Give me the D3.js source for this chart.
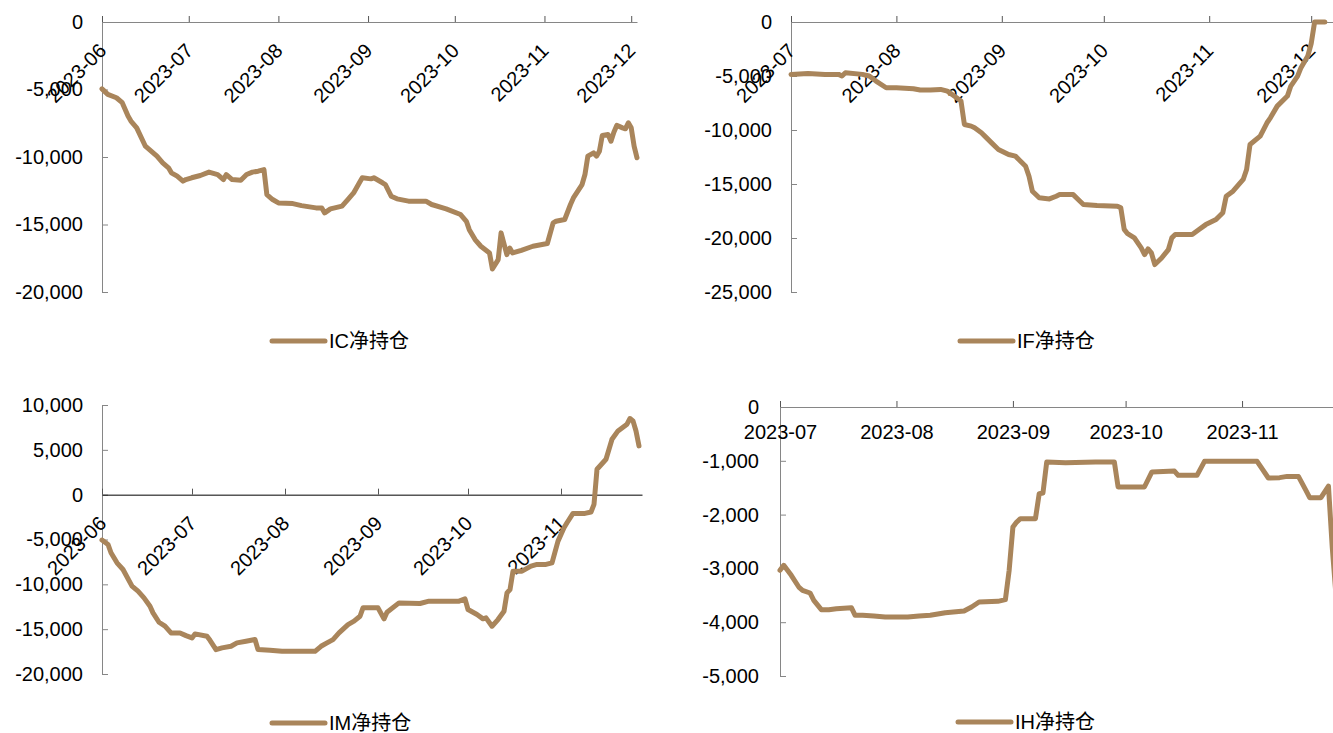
<!DOCTYPE html>
<html>
<head>
<meta charset="utf-8">
<script src="https://cdn.jsdelivr.net/npm/d3@7"></script>
<style>
body { margin: 0; background: #fff; }
svg { display: block; }
</style>
</head>
<body>
<div id="chart"></div>
<script>
// IC net position (date, contracts)
var icSeries = [
    ["2023-06-01", -4950], ["2023-06-03", -5360], ["2023-06-06", -5610], ["2023-06-08", -5980],
    ["2023-06-10", -6970], ["2023-06-11", -7340], ["2023-06-13", -7840], ["2023-06-16", -9200],
    ["2023-06-18", -9570], ["2023-06-20", -9940], ["2023-06-22", -10430], ["2023-06-24", -10800],
    ["2023-06-25", -11170], ["2023-06-27", -11420], ["2023-06-29", -11790], ["2023-06-30", -11670],
    ["2023-07-02", -11540], ["2023-07-05", -11370], ["2023-07-08", -11120], ["2023-07-11", -11300],
    ["2023-07-13", -11670], ["2023-07-14", -11300], ["2023-07-16", -11670], ["2023-07-19", -11720],
    ["2023-07-21", -11300], ["2023-07-23", -11120], ["2023-07-25", -11050], ["2023-07-27", -10930],
    ["2023-07-28", -12780], ["2023-07-30", -13150], ["2023-08-01", -13400], ["2023-08-06", -13450],
    ["2023-08-09", -13600], ["2023-08-14", -13770], ["2023-08-16", -13770], ["2023-08-17", -14140],
    ["2023-08-19", -13840], ["2023-08-23", -13640], ["2023-08-25", -13150], ["2023-08-27", -12660],
    ["2023-08-29", -11910], ["2023-08-30", -11540], ["2023-09-02", -11620], ["2023-09-03", -11540],
    ["2023-09-06", -11910], ["2023-09-07", -12040], ["2023-09-09", -12900], ["2023-09-11", -13100],
    ["2023-09-15", -13270], ["2023-09-21", -13270], ["2023-09-23", -13520], ["2023-09-28", -13840],
    ["2023-10-03", -14260], ["2023-10-05", -14760], ["2023-10-06", -15380], ["2023-10-08", -16120],
    ["2023-10-10", -16610], ["2023-10-13", -17110], ["2023-10-14", -18300], ["2023-10-16", -17600],
    ["2023-10-17", -15620], ["2023-10-19", -17230], ["2023-10-20", -16740], ["2023-10-21", -17110],
    ["2023-10-24", -16910], ["2023-10-28", -16610], ["2023-11-02", -16410], ["2023-11-04", -14880],
    ["2023-11-05", -14760], ["2023-11-08", -14630], ["2023-11-10", -13520], ["2023-11-11", -13030],
    ["2023-11-14", -12040], ["2023-11-15", -11300], ["2023-11-16", -9940], ["2023-11-18", -9690],
    ["2023-11-19", -9940], ["2023-11-20", -9570], ["2023-11-21", -8400], ["2023-11-23", -8330],
    ["2023-11-24", -8830], ["2023-11-25", -8160], ["2023-11-26", -7660], ["2023-11-28", -7840],
    ["2023-11-29", -7910], ["2023-11-30", -7470], ["2023-12-01", -7840], ["2023-12-02", -9200],
    ["2023-12-03", -10060]
];

// IF net position
var ifSeries = [
    ["2023-07-01", -4850], ["2023-07-06", -4760], ["2023-07-11", -4850], ["2023-07-15", -4850],
    ["2023-07-16", -5000], ["2023-07-17", -4700], ["2023-07-22", -4850], ["2023-07-24", -5000],
    ["2023-07-26", -5470], ["2023-07-29", -6090], ["2023-08-01", -6090], ["2023-08-06", -6180],
    ["2023-08-08", -6300], ["2023-08-11", -6300], ["2023-08-14", -6240], ["2023-08-16", -6400],
    ["2023-08-18", -6860], ["2023-08-20", -7320], ["2023-08-21", -9490], ["2023-08-23", -9640],
    ["2023-08-24", -9800], ["2023-08-26", -10260], ["2023-08-27", -10570], ["2023-08-29", -11190],
    ["2023-08-31", -11800], ["2023-09-03", -12270], ["2023-09-05", -12420], ["2023-09-06", -12730],
    ["2023-09-08", -13350], ["2023-09-09", -14280], ["2023-09-10", -15670], ["2023-09-12", -16280],
    ["2023-09-15", -16380], ["2023-09-17", -16130], ["2023-09-18", -15980], ["2023-09-22", -15980],
    ["2023-09-24", -16590], ["2023-09-25", -16900], ["2023-09-29", -17000], ["2023-10-05", -17060],
    ["2023-10-06", -17210], ["2023-10-07", -19200], ["2023-10-08", -19600], ["2023-10-10", -19990],
    ["2023-10-11", -20460], ["2023-10-12", -20920], ["2023-10-13", -21540], ["2023-10-14", -21010],
    ["2023-10-15", -21380], ["2023-10-16", -22460], ["2023-10-18", -21850], ["2023-10-20", -21070],
    ["2023-10-21", -19990], ["2023-10-22", -19680], ["2023-10-27", -19680], ["2023-10-29", -19220],
    ["2023-10-31", -18760], ["2023-11-03", -18290], ["2023-11-05", -17670], ["2023-11-06", -16130],
    ["2023-11-08", -15670], ["2023-11-11", -14580], ["2023-11-12", -13660], ["2023-11-13", -11340],
    ["2023-11-16", -10570], ["2023-11-18", -9330], ["2023-11-19", -8870], ["2023-11-21", -7790],
    ["2023-11-24", -6860], ["2023-11-25", -5930], ["2023-11-27", -5010], ["2023-11-28", -4230],
    ["2023-11-30", -3150], ["2023-12-01", -2000], ["2023-12-02", 0], ["2023-12-05", 0]
];

// IM net position
var imSeries = [
    ["2023-06-01", -5065], ["2023-06-03", -5550], ["2023-06-04", -6480], ["2023-06-06", -7600],
    ["2023-06-08", -8340], ["2023-06-11", -10200], ["2023-06-13", -10760], ["2023-06-15", -11510],
    ["2023-06-17", -12440], ["2023-06-18", -13180], ["2023-06-20", -14230], ["2023-06-22", -14670],
    ["2023-06-24", -15420], ["2023-06-27", -15420], ["2023-06-29", -15720], ["2023-07-01", -15980],
    ["2023-07-02", -15530], ["2023-07-06", -15790], ["2023-07-07", -16240], ["2023-07-09", -17280],
    ["2023-07-11", -17090], ["2023-07-14", -16910], ["2023-07-16", -16530], ["2023-07-19", -16350],
    ["2023-07-22", -16160], ["2023-07-23", -17280], ["2023-07-27", -17350], ["2023-07-31", -17470],
    ["2023-08-11", -17470], ["2023-08-13", -16910], ["2023-08-15", -16530], ["2023-08-17", -16160],
    ["2023-08-19", -15420], ["2023-08-22", -14490], ["2023-08-24", -14110], ["2023-08-26", -13560],
    ["2023-08-27", -12620], ["2023-09-01", -12620], ["2023-09-03", -13850], ["2023-09-04", -13110],
    ["2023-09-08", -12070], ["2023-09-15", -12140], ["2023-09-18", -11880], ["2023-09-28", -11880],
    ["2023-09-30", -11620], ["2023-10-01", -12810], ["2023-10-04", -13370], ["2023-10-06", -13850],
    ["2023-10-07", -13740], ["2023-10-09", -14670], ["2023-10-11", -13930], ["2023-10-13", -13000],
    ["2023-10-14", -10950], ["2023-10-15", -10580], ["2023-10-16", -8530], ["2023-10-19", -8530],
    ["2023-10-22", -7970], ["2023-10-24", -7780], ["2023-10-27", -7780], ["2023-10-29", -7600],
    ["2023-10-31", -5180], ["2023-11-02", -3690], ["2023-11-03", -3130], ["2023-11-05", -2090],
    ["2023-11-09", -2090], ["2023-11-11", -1940], ["2023-11-12", -1080], ["2023-11-13", 2830],
    ["2023-11-16", 3950], ["2023-11-18", 6180], ["2023-11-20", 7110], ["2023-11-23", 7860],
    ["2023-11-24", 8490], ["2023-11-25", 8230], ["2023-11-26", 7110], ["2023-11-27", 5440]
];

// IH net position
var ihSeries = [
    ["2023-07-01", -3036], ["2023-07-02", -2943], ["2023-07-04", -3129], ["2023-07-06", -3346],
    ["2023-07-07", -3408], ["2023-07-09", -3457], ["2023-07-10", -3594], ["2023-07-12", -3767],
    ["2023-07-14", -3767], ["2023-07-16", -3749], ["2023-07-20", -3730], ["2023-07-21", -3872],
    ["2023-07-23", -3872], ["2023-07-26", -3885], ["2023-07-29", -3903], ["2023-08-04", -3903],
    ["2023-08-07", -3885], ["2023-08-10", -3872], ["2023-08-14", -3823], ["2023-08-19", -3792],
    ["2023-08-21", -3718], ["2023-08-23", -3625], ["2023-08-28", -3612], ["2023-08-30", -3581],
    ["2023-08-31", -3036], ["2023-09-01", -2230], ["2023-09-02", -2138], ["2023-09-03", -2076],
    ["2023-09-07", -2076], ["2023-09-08", -1611], ["2023-09-09", -1599], ["2023-09-10", -1022],
    ["2023-09-15", -1035], ["2023-09-23", -1022], ["2023-09-28", -1022], ["2023-09-29", -1487],
    ["2023-10-06", -1487], ["2023-10-08", -1208], ["2023-10-14", -1190], ["2023-10-15", -1270],
    ["2023-10-20", -1270], ["2023-10-22", -1010], ["2023-11-05", -1010], ["2023-11-06", -1115],
    ["2023-11-08", -1320], ["2023-11-11", -1313], ["2023-11-13", -1290], ["2023-11-16", -1290],
    ["2023-11-18", -1549], ["2023-11-19", -1685], ["2023-11-22", -1685], ["2023-11-24", -1470],
    ["2023-11-25", -2600], ["2023-11-26", -3500]
];

var monthsJunDec = ["2023-06-01", "2023-07-01", "2023-08-01", "2023-09-01", "2023-10-01", "2023-11-01", "2023-12-01"];
var monthsJulDec = ["2023-07-01", "2023-08-01", "2023-09-01", "2023-10-01", "2023-11-01", "2023-12-01"];
var monthsJunNov = ["2023-06-01", "2023-07-01", "2023-08-01", "2023-09-01", "2023-10-01", "2023-11-01"];
var monthsJulNov = ["2023-07-01", "2023-08-01", "2023-09-01", "2023-10-01", "2023-11-01"];

var icTicks = [0, -5000, -10000, -15000, -20000];
var ifTicks = [0, -5000, -10000, -15000, -20000, -25000];
var imTicks = [10000, 5000, 0, -5000, -10000, -15000, -20000];
var ihTicks = [0, -1000, -2000, -3000, -4000, -5000];

var lineColor = "#a9855b";
var axisColor = "#868686";
var fontFamily = "'Liberation Sans', Arial, 'Noto Sans CJK SC', sans-serif";

var parse = d3.timeParse("%Y-%m-%d");
var fmtX = d3.timeFormat("%Y-%m");
var fmtY = d3.formatLocale({ decimal: ".", thousands: ",", grouping: [3], currency: ["", ""], minus: "-" }).format(",");

var svg = d3.select("#chart").append("svg")
    .attr("width", 1333)
    .attr("height", 733)
    .style("font-family", fontFamily);

function drawPanel(p) {
    var x = d3.scaleTime()
        .domain([parse(p.start), parse(p.end)])
        .range([p.left, p.right]);
    var y = d3.scaleLinear()
        .domain(d3.extent(p.yTicks))
        .range([p.bottom, p.top]);

    var g = svg.append("g");

    // y axis, ticks pointing inwards
    var gy = g.append("g")
        .attr("transform", "translate(" + p.left + ",0)")
        .call(d3.axisLeft(y).tickValues(p.yTicks).tickFormat(fmtY)
            .tickSizeInner(-6).tickSizeOuter(0).tickPadding(p.labelGap));

    // x axis sits on the zero line
    var gx = g.append("g")
        .attr("transform", "translate(0," + y(0) + ")")
        .call(d3.axisBottom(x).tickValues(p.xTicks.map(parse)).tickFormat(fmtX)
            .tickSizeInner(-6).tickSizeOuter(0).tickPadding(18));

    gy.select(".domain").attr("stroke", axisColor);
    gy.selectAll(".tick line").attr("stroke", axisColor);
    gx.select(".domain").attr("stroke", p.zeroColor || axisColor);
    gx.selectAll(".tick line").attr("stroke", "#555");

    g.selectAll(".tick text")
        .attr("fill", "#000")
        .style("font-size", "20px")
        .style("font-family", fontFamily);

    if (p.rotate) {
        gx.selectAll(".tick text")
            .attr("y", 0)
            .attr("dy", null)
            .attr("text-anchor", "end")
            .attr("transform", "translate(5,30) rotate(-45)");
    }

    var line = d3.line()
        .x(function(d) { return x(parse(d[0])); })
        .y(function(d) { return y(d[1]); });

    g.append("path")
        .datum(p.series)
        .attr("d", line)
        .attr("fill", "none")
        .attr("stroke", lineColor)
        .attr("stroke-width", 5)
        .attr("stroke-linejoin", "round")
        .attr("stroke-linecap", "round");

    // legend
    g.append("line")
        .attr("x1", p.legendX).attr("x2", p.legendX + 53)
        .attr("y1", p.legendY).attr("y2", p.legendY)
        .attr("stroke", lineColor)
        .attr("stroke-width", 5)
        .attr("stroke-linecap", "round");
    g.append("text")
        .attr("x", p.legendX + 57)
        .attr("y", p.legendY + 7)
        .style("font-size", "20px")
        .attr("fill", "#000")
        .text(p.name);
}

drawPanel({ name: "IC净持仓", series: icSeries, xTicks: monthsJunDec, yTicks: icTicks,
    start: "2023-06-01", end: "2023-12-03", left: 102, right: 637, top: 22, bottom: 292,
    labelGap: 19, rotate: true, legendX: 272, legendY: 341 });

drawPanel({ name: "IF净持仓", series: ifSeries, xTicks: monthsJulDec, yTicks: ifTicks,
    start: "2023-07-01", end: "2023-12-08", left: 791, right: 1335, top: 22, bottom: 292,
    labelGap: 19, rotate: true, legendX: 960, legendY: 341 });

drawPanel({ name: "IM净持仓", series: imSeries, xTicks: monthsJunNov, yTicks: imTicks,
    start: "2023-06-01", end: "2023-11-28", left: 102, right: 642, top: 405, bottom: 674,
    labelGap: 19, rotate: true, zeroColor: "#000", legendX: 272, legendY: 723 });

drawPanel({ name: "IH净持仓", series: ihSeries, xTicks: monthsJulNov, yTicks: ihTicks,
    start: "2023-07-01", end: "2023-11-30", left: 780, right: 1351, top: 407, bottom: 676,
    labelGap: 21, rotate: false, legendX: 958, legendY: 722 });
</script>
</body>
</html>
